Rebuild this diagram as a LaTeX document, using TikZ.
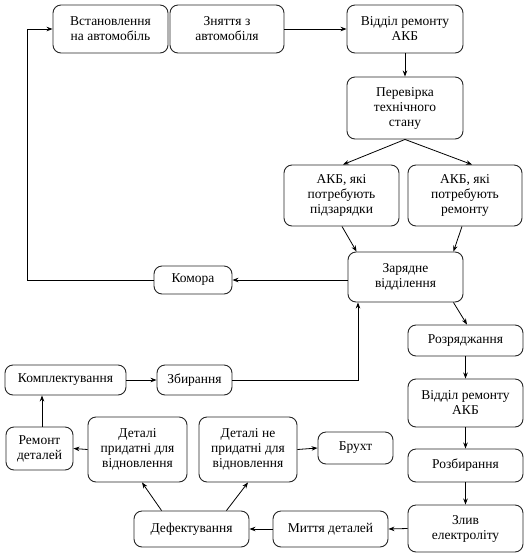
\documentclass[tikz,border=0pt]{standalone}
\usepackage{fontspec}
\setmainfont{Liberation Serif}
\usetikzlibrary{arrows.meta,calc}
\begin{document}
\begin{tikzpicture}[x=1pt,y=-1pt,
  box/.style={draw=black!85,line width=0.9pt,rounded corners=8pt,align=center,inner sep=1pt,font=\rmfamily\fontsize{13.5}{15}\selectfont},
  arr/.style={-{Stealth[length=6pt,width=4.5pt]},line width=0.8pt}]
\useasboundingbox (0,0) rectangle (528,558);
\newcommand{\bx}[6]{\node[box,minimum width=#4,minimum height=#5] (#1) at (#2,#3) {#6};}
\bx{inst}{110.5}{29}{115}{48}{Встановлення\\на автомобіль}
\bx{zn}{227}{29}{114}{48}{Зняття з\\автомобіля}
\bx{vr1}{405}{29}{116}{48}{Відділ ремонту\\АКБ}
\bx{per}{405}{108}{116}{62}{Перевірка\\технічного\\стану}
\bx{pz}{341.5}{195.5}{115}{61}{АКБ, які\\потребують\\підзарядки}
\bx{rem}{465}{195.5}{114}{61}{АКБ, які\\потребують\\ремонту}
\bx{zar}{405.5}{277}{115}{50}{Зарядне\\відділення}
\bx{kom}{193}{280}{78}{28}{Комора}
\bx{roz}{465.5}{340.5}{115}{31}{Розряджання}
\bx{vr2}{465.5}{403}{115}{48}{Відділ ремонту\\АКБ}
\bx{rozb}{465.5}{465.5}{115}{33}{Розбирання}
\bx{zliv}{465.5}{528.5}{115}{47}{Злив\\електроліту}
\bx{myt}{330.5}{529}{115}{36}{Миття деталей}
\bx{def}{191.5}{529}{115}{36}{Дефектування}
\bx{dp}{137.5}{449.5}{99}{65}{Деталі\\придатні для\\відновлення}
\bx{dnp}{248}{449.5}{98}{65}{Деталі не\\придатні для\\відновлення}
\bx{bru}{355.5}{448}{75}{32}{Брухт}
\bx{remd}{39.5}{448.5}{67}{43}{Ремонт\\деталей}
\bx{kompl}{65.5}{380}{121}{30}{Комплектування}
\bx{zb}{194.5}{380}{75}{30}{Збирання}
\coordinate (lk) at (27,0);
\coordinate (zbc) at (358,0);
\coordinate (rdn) at ($(remd.north)+(2.5,0)$);
% connectors
\draw[arr] (zn.east) -- (vr1.west);
\draw[arr] (vr1.south) -- (per.north);
\draw[arr] (per.south) -- ($(pz.north)+(1.5,0)$);
\draw[arr] (per.south) -- ($(rem.north)+(7,0)$);
\draw[arr] ($(pz.south)+(0.5,0)$) -- ($(zar.north west)+(9,0)$);
\draw[arr] ($(rem.south)+(-3,0)$) -- ($(zar.north east)+(-10,0)$);
\draw[arr] (kom.east -| zar.west) -- (kom.east);
\draw[arr] (kom.west) -- (kom.west -| lk) |- (inst.west);
\draw[arr] ($(zar.south east)+(-10,0)$) -- ($(roz.north)+(1.5,0)$);
\draw[arr] (roz.south) -- (vr2.north);
\draw[arr] (vr2.south) -- (rozb.north);
\draw[arr] (rozb.south) -- (zliv.north);
\draw[arr] (zliv.west) -- (myt.east);
\draw[arr] (myt.west) -- (def.east);
\draw[arr] ($(def.north west)+(28,0)$) -- ($(dp.south)+(4.5,0)$);
\draw[arr] ($(def.north east)+(-23,0)$) -- (dnp.south);
\draw[arr] (dnp.east) -- (bru.west);
\draw[arr] (dp.west) -- (remd.east);
\draw[arr] (rdn) -- (rdn |- kompl.south);
\draw[arr] (kompl.east) -- (zb.west);
\draw[arr] (zb.east) -| (zbc |- zar.south);
\end{tikzpicture}
\end{document}
